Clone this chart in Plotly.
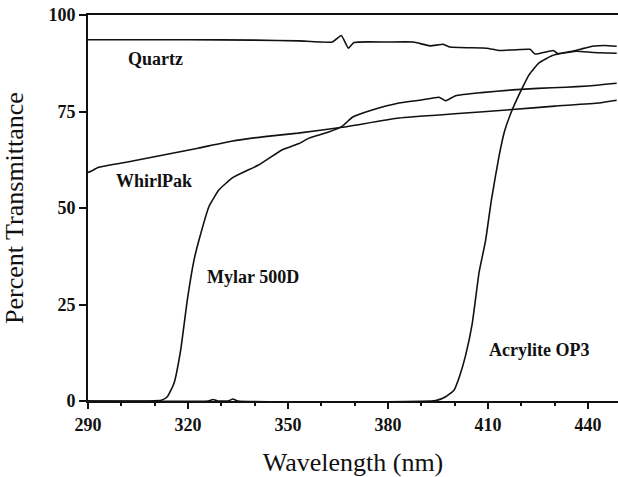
import plotly.graph_objects as go

# ---- data ----
quartz_wl = [290, 300, 320, 340, 353.3, 363.3, 366, 368.1, 369.8, 380, 387.6, 392.6, 396.6, 398.6,
             409.6, 413.6, 422.6, 424.1, 429.6, 431, 436.6, 441.6, 448.6]
quartz_t = [93.6, 93.6, 93.6, 93.5, 93.3, 93.0, 94.7, 91.4, 92.9, 93.0, 93.0, 92.0, 92.4, 91.7,
            91.4, 90.8, 91.1, 89.9, 90.8, 90.0, 90.6, 90.3, 90.1]

whirl_wl = [290, 291.5, 293, 303, 313, 323, 333, 343, 353, 366.3, 383.3, 400, 417.2, 430, 443.3, 448.6]
whirl_t = [59.2, 59.8, 60.5, 62.1, 63.8, 65.5, 67.3, 68.5, 69.4, 70.9, 73.3, 74.4, 75.5, 76.4, 77.2, 77.9]

mylar_wl = [290, 312, 313.8, 315.8, 317.8, 319.8, 321.8, 323.3, 326.3, 329.3, 333.3, 341.3, 348.3,
            353.3, 356.3, 362, 366.3, 369.3, 375, 383.3, 390, 395.3, 397.3, 400.3, 408, 417.3,
            425, 433.3, 440, 448.6]
mylar_t = [0, 0.2, 1.1, 4.6, 13.2, 26.2, 36.5, 41.7, 50.4, 54.7, 57.8, 61.2, 65.1,
           66.7, 68.1, 69.6, 71.2, 73.5, 75.3, 77.2, 78.0, 78.7, 77.8, 79.1, 79.9, 80.6,
           81.0, 81.3, 81.6, 82.3]

acryl_wl = [290, 326, 327.5, 329, 332, 333.5, 335, 394.3, 397.3, 399.8, 401.5, 403.3, 405.3, 407.3,
            409.3, 411, 413.3, 415, 417.3, 420.3, 422.3, 425.3, 429.3, 432, 435.3, 438, 441.3,
            445, 448.6]
acryl_t = [0, 0, 0.4, 0, 0, 0.5, 0, 0.1, 1.1, 2.8, 6.5, 11.9, 20.2, 33.2,
           41.7, 52, 63.4, 70, 75.5, 81.1, 84.5, 87.6, 89.5, 90.1, 90.6, 91.2, 91.9,
           92.1, 91.9]

labels = ["Quartz", "WhirlPak", "Mylar 500D", "Acrylite OP3"]
label_x = [310.3, 309.8, 339.5, 425.3]
label_y = [88.6, 57.0, 32.0, 13.2]

x_ticks = [290, 320, 350, 380, 410, 440]
y_ticks = [0, 25, 50, 75, 100]

fig = go.Figure()
for wl, t in [(quartz_wl, quartz_t), (whirl_wl, whirl_t), (mylar_wl, mylar_t), (acryl_wl, acryl_t)]:
    fig.add_trace(go.Scatter(x=wl, y=t, mode="lines",
                             line=dict(color="#111111", width=1.6, shape="spline", smoothing=0.4),
                             showlegend=False, cliponaxis=False))

for txt, xx, yy in zip(labels, label_x, label_y):
    fig.add_annotation(x=xx, y=yy, text=txt, showarrow=False,
                       font=dict(family="Liberation Serif", size=18, color="#111111", weight="bold"))

serif = "Liberation Serif"
fig.update_layout(
    width=618, height=477,
    margin=dict(l=88, r=0, t=15, b=76),
    paper_bgcolor="white", plot_bgcolor="white",
    showlegend=False,
)
fig.update_xaxes(
    range=[290, 449], tickmode="array", tickvals=x_ticks, ticktext=[str(v) for v in x_ticks],
    showgrid=False, zeroline=False,
    showline=True, linecolor="#111111", linewidth=2, mirror=True,
    ticks="outside", ticklen=6, tickwidth=2, tickcolor="#111111",
    minor=dict(dtick=10, tick0=290, ticks="outside", ticklen=3, tickwidth=2, tickcolor="#111111",
               showgrid=False),
    tickfont=dict(family=serif, size=18, color="#111111", weight="bold"),
    title=dict(text="Wavelength (nm)", font=dict(family=serif, size=26, color="#111111"), standoff=20),
)
fig.update_yaxes(
    range=[0, 100], tickmode="array", tickvals=y_ticks, ticktext=[str(v) for v in y_ticks],
    showgrid=False, zeroline=False,
    showline=True, linecolor="#111111", linewidth=2,
    ticks="outside", ticklen=7, tickwidth=2, tickcolor="#111111",
    tickfont=dict(family=serif, size=18, color="#111111", weight="bold"),
    title=dict(text="Percent Transmittance", font=dict(family=serif, size=26, color="#111111"), standoff=18),
)

fig.write_html("out.html")
